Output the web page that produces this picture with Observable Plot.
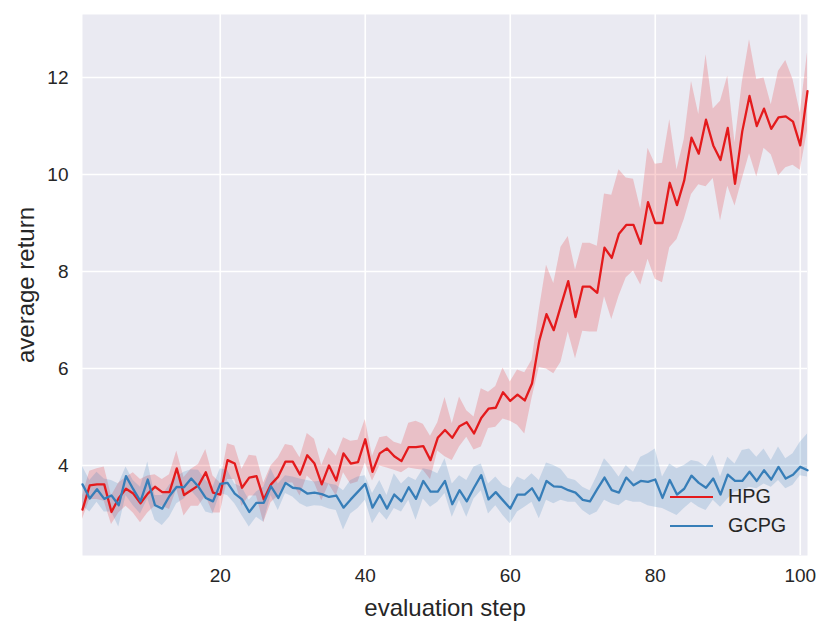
<!DOCTYPE html>
<html>
<head>
<meta charset="utf-8">
<script src="https://cdn.jsdelivr.net/npm/d3@7"></script>
<script src="https://cdn.jsdelivr.net/npm/@observablehq/plot@0.6"></script>
<style>
  body { margin: 0; background: #ffffff; }
  #wrap { position: relative; width: 831px; height: 633px; font-family: "Liberation Sans", Arial, sans-serif; }
  #wrap svg text { font-size: 19px; }
  #wrap svg g[aria-label="x-axis label"] text, #wrap svg g[aria-label="y-axis label"] text { font-size: 24px; }
  .legend { position: absolute; left: 670px; top: 482px; font-size: 19.8px; color: #262626; }
  .legend .row { display: flex; align-items: center; height: 29px; }
  .legend .sw { width: 43px; height: 0; border-top: 2.4px solid; margin-right: 15px; }
</style>
</head>
<body>
<div id="wrap"></div>
<script>
// Data
const seriesNames = ["HPG", "GCPG"];
const seriesColors = ["#E41A1C", "#377EB8"];
const xTicks = [20, 40, 60, 80, 100];
const yTicks = [4, 6, 8, 10, 12];

const hpgMean = [3.09,3.59,3.61,3.61,3.04,3.33,3.52,3.42,3.22,3.42,
  3.56,3.45,3.45,3.94,3.39,3.49,3.59,3.86,3.44,3.40,
  4.11,4.04,3.54,3.75,3.78,3.30,3.61,3.77,4.08,4.08,
  3.81,4.21,4.04,3.61,4.00,3.69,4.25,4.04,4.07,4.54,
  3.87,4.25,4.35,4.19,4.09,4.38,4.38,4.40,4.11,4.57,
  4.73,4.57,4.81,4.89,4.66,4.98,5.17,5.19,5.51,5.33,
  5.46,5.34,5.69,6.57,7.12,6.79,7.30,7.80,7.06,7.69,
  7.69,7.56,8.49,8.28,8.78,8.96,8.96,8.57,9.43,9.00,
  9.00,9.83,9.37,9.88,10.76,10.43,11.13,10.60,10.30,10.96,
  9.81,10.89,11.62,11.00,11.36,10.94,11.18,11.20,11.09,10.60,
  11.72];
const hpgUpper = [3.37,3.88,3.93,3.97,3.37,3.64,3.75,3.85,3.71,3.78,
  3.81,3.71,3.81,4.30,3.75,3.92,4.02,4.33,3.78,3.64,
  4.45,4.40,3.92,4.21,4.19,3.64,3.99,4.16,4.43,4.40,
  4.16,4.66,4.54,4.00,4.36,4.19,4.57,4.50,4.52,4.95,
  4.19,4.57,4.60,4.48,4.43,4.87,4.91,4.85,4.60,4.88,
  5.40,4.86,5.41,5.13,5.00,5.58,5.51,5.63,6.01,5.72,
  5.97,5.91,6.17,7.20,8.13,7.75,8.50,8.72,8.03,8.58,
  8.58,8.52,9.60,9.57,10.10,9.93,9.90,9.28,10.54,10.21,
  10.23,11.13,10.10,10.72,11.92,11.24,12.47,11.35,11.51,12.03,
  10.65,11.89,12.78,11.96,11.99,11.44,12.13,12.35,11.96,11.27,
  12.51];
const hpgLower = [2.89,3.30,3.30,3.26,2.78,3.02,3.16,3.02,2.82,3.02,
  3.16,3.16,3.09,3.51,2.96,3.16,3.16,3.37,3.02,3.02,
  3.71,3.71,3.16,3.37,3.37,2.82,3.23,3.37,3.64,3.64,
  3.37,3.78,3.64,3.27,3.61,3.37,3.85,3.61,3.66,4.05,
  3.68,3.99,3.95,3.90,3.85,3.95,3.92,3.90,3.71,4.30,
  4.18,4.10,4.38,4.58,4.32,4.38,4.76,4.79,4.96,4.91,
  4.83,4.65,5.38,6.02,5.99,5.89,6.13,6.75,6.20,6.77,
  6.75,6.75,7.48,7.01,7.49,7.87,8.01,7.72,8.25,7.84,
  7.77,8.49,8.66,9.07,9.59,9.79,9.75,9.92,9.04,9.76,
  9.35,9.90,10.43,9.95,10.54,10.41,9.97,10.14,10.19,10.09,
  10.90];

const gcpgMean = [3.61,3.32,3.51,3.31,3.38,3.18,3.78,3.51,3.26,3.71,
  3.18,3.11,3.37,3.56,3.55,3.73,3.56,3.33,3.26,3.62,
  3.64,3.42,3.30,3.04,3.23,3.23,3.57,3.33,3.64,3.54,
  3.52,3.42,3.44,3.41,3.35,3.38,3.13,3.30,3.46,3.62,
  3.13,3.39,3.11,3.40,3.26,3.55,3.31,3.68,3.46,3.46,
  3.68,3.20,3.49,3.26,3.54,3.80,3.30,3.45,3.28,3.11,
  3.40,3.40,3.53,3.28,3.68,3.57,3.56,3.49,3.44,3.29,
  3.26,3.51,3.75,3.49,3.44,3.75,3.59,3.68,3.66,3.71,
  3.33,3.70,3.40,3.52,3.79,3.64,3.54,3.73,3.40,3.81,
  3.68,3.68,3.87,3.68,3.90,3.71,3.97,3.73,3.81,3.97,
  3.90];
const gcpgUpper = [3.98,3.69,3.86,3.72,3.69,3.62,3.97,3.69,3.55,4.07,
  3.38,3.38,3.59,3.76,3.86,3.91,3.90,3.69,3.55,3.93,
  3.90,3.62,3.55,3.28,3.45,3.55,3.93,3.62,3.79,3.76,
  3.72,3.69,3.66,3.68,3.62,3.59,3.48,3.69,3.76,3.79,
  3.42,3.69,3.38,3.83,3.62,3.76,3.69,3.93,3.90,3.83,
  4.14,3.62,3.79,3.69,3.97,4.03,3.62,3.76,3.59,3.52,
  3.76,3.69,3.83,3.69,4.05,4.00,3.92,3.73,3.69,3.55,
  3.48,3.79,4.14,3.97,3.76,4.00,3.86,4.17,4.24,4.34,
  3.76,4.03,3.93,4.00,4.10,4.07,3.97,4.21,3.76,4.17,
  4.03,4.31,4.34,4.17,4.34,4.10,4.38,4.14,4.24,4.48,
  4.65];
const gcpgLower = [3.17,3.04,3.24,3.04,3.04,2.73,3.38,3.17,3.00,3.31,
  2.87,2.76,2.93,3.21,3.31,3.48,3.31,3.04,3.00,3.42,
  3.38,3.21,2.97,2.73,2.93,2.83,3.38,3.07,3.42,3.35,
  3.21,3.14,3.17,3.16,3.10,3.07,2.67,3.00,3.11,3.28,
  2.80,3.04,2.87,3.11,3.04,3.28,2.87,3.31,3.14,3.24,
  3.42,2.93,3.28,2.93,3.31,3.48,3.00,3.17,2.97,2.80,
  3.04,3.14,3.24,2.90,3.28,3.21,3.28,3.24,3.24,3.07,
  2.97,3.04,3.28,3.21,3.17,3.28,3.24,3.24,3.17,3.14,
  3.11,3.04,2.97,3.11,3.24,3.14,3.07,3.28,3.14,3.31,
  3.45,3.48,3.55,3.52,3.62,3.55,3.69,3.52,3.59,3.79,
  3.76];

const rows = [];
[[seriesNames[0], hpgMean, hpgLower, hpgUpper],
 [seriesNames[1], gcpgMean, gcpgLower, gcpgUpper]].forEach(([name, m, lo, hi]) => {
  m.forEach((v, i) => rows.push({series: name, step: i + 1, value: v, lower: lo[i], upper: hi[i]}));
});

const chart = Plot.plot({
  width: 831,
  height: 633,
  marginLeft: 82,
  marginRight: 24,
  marginTop: 14,
  marginBottom: 78,
  style: {fontFamily: '"Liberation Sans", Arial, sans-serif', fontSize: "19px", color: "#262626", background: "white", overflow: "visible"},
  x: {domain: [1, 101]},
  y: {domain: [2.143, 13.30]},
  color: {domain: seriesNames, range: seriesColors},
  marks: [
    Plot.frame({fill: "#EAEAF2", stroke: null}),
    Plot.gridX(xTicks, {stroke: "white", strokeOpacity: 1, strokeWidth: 1.6}),
    Plot.gridY(yTicks, {stroke: "white", strokeOpacity: 1, strokeWidth: 1.6}),
    Plot.areaY(rows, {x: "step", y1: "lower", y2: "upper", z: "series", fill: "series", fillOpacity: 0.2, curve: "linear"}),
    Plot.line(rows, {x: "step", y: "value", z: "series", stroke: "series", strokeWidth: 2.3, curve: "linear"}),
    Plot.axisX(xTicks, {tickSize: 0, tickPadding: 13, fontSize: 19, label: "evaluation step", labelAnchor: "center", labelArrow: "none", labelOffset: 60}),
    Plot.axisY(yTicks, {tickSize: 0, tickPadding: 14, fontSize: 19, label: "average return", labelAnchor: "center", labelArrow: "none", labelOffset: 66})
  ]
});

const wrap = document.getElementById("wrap");
wrap.appendChild(chart);

const legend = document.createElement("div");
legend.className = "legend";
seriesNames.forEach((name, i) => {
  const row = document.createElement("div");
  row.className = "row";
  const sw = document.createElement("span");
  sw.className = "sw";
  sw.style.borderTopColor = seriesColors[i];
  const label = document.createElement("span");
  label.textContent = name;
  row.appendChild(sw);
  row.appendChild(label);
  legend.appendChild(row);
});
wrap.appendChild(legend);
</script>
</body>
</html>
